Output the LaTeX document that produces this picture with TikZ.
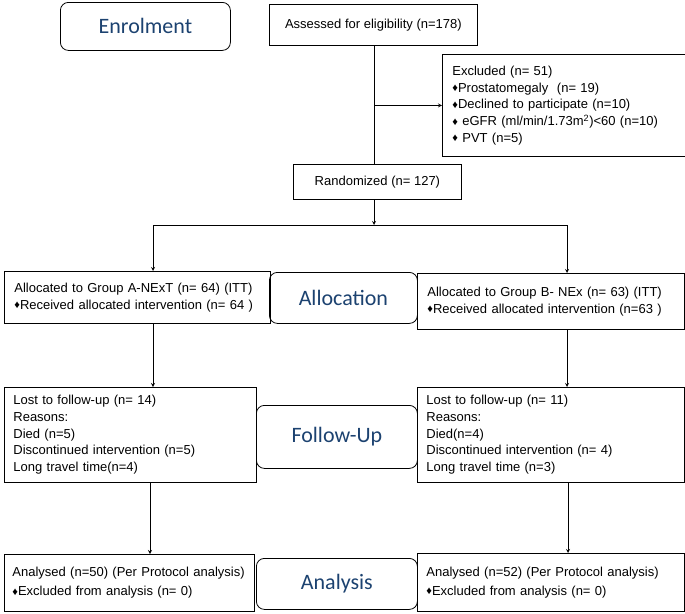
\documentclass[tikz,border=0pt]{standalone}
\usepackage{fontspec}
\setmainfont{Liberation Sans}
\newfontfamily\stagefont{Carlito}
\definecolor{stageblue}{RGB}{28,66,112}
\newcommand{\dia}{\raisebox{0.3pt}{\fontsize{11}{11}\selectfont\symbol{"2666}}}
\tikzset{
  box/.style={draw, rectangle, anchor=north west, align=left, inner xsep=9pt,
    line width=0.8pt, font=\fontsize{13}{16.7}\selectfont},
  stage/.style={draw, rectangle, rounded corners=8pt, anchor=north west,
    line width=0.8pt, text=stageblue, font=\stagefont\fontsize{22}{26}\selectfont}
}
\begin{document}
\begin{tikzpicture}[>=stealth, x=1pt, y=-1pt, line width=0.8pt]
\useasboundingbox (0,0) rectangle (685,613);

% Enrolment
\node[stage, minimum width=170pt, minimum height=48pt] (enrol) at (60,2) {Enrolment};
\node[box, minimum width=208pt, minimum height=41pt, align=center] (assess) at (269,4) {Assessed for eligibility (n=178)};
\node[box, text width=225pt, minimum height=102pt, inner xsep=10pt] (excl) at (442,54)
  {Excluded (n= 51)\\
   \dia Prostatomegaly\ \ (n= 19)\\
   \dia Declined to participate (n=10)\\
   \dia\ eGFR (ml/min/1.73m\textsuperscript{2})<60 (n=10)\\
   \dia\ PVT (n=5)};
\node[box, minimum width=168pt, minimum height=35pt, align=center] (rand) at (293,164) {Randomized (n= 127)};

\coordinate (trunk) at (374,0);
\coordinate (splitA) at (153,225);
\coordinate (splitB) at (567,225);

% Allocation
\node[box, text width=246pt, minimum height=52pt, inner xsep=10pt] (allocA) at (4,271)
  {Allocated to Group A-NExT (n= 64) (ITT)\\
   \dia Received allocated intervention (n= 64 )};
\node[stage, minimum width=148pt, minimum height=51pt] (alloc) at (269,272) {Allocation};
\node[box, text width=247pt, minimum height=56pt, inner xsep=10pt] (allocB) at (417,273)
  {Allocated to Group B- NEx (n= 63) (ITT)\\
   \dia Received allocated intervention (n=63 )};

% Follow-Up
\node[box, text width=234pt, minimum height=95pt] (fuA) at (4,387)
  {Lost to follow-up (n= 14)\\
   Reasons:\\
   Died (n=5)\\
   Discontinued intervention (n=5)\\
   Long travel time(n=4)};
\node[stage, minimum width=161pt, minimum height=63pt] (fu) at (256,405) {Follow-Up};
\node[box, text width=249pt, minimum height=95pt] (fuB) at (417,387)
  {Lost to follow-up (n= 11)\\
   Reasons:\\
   Died(n=4)\\
   Discontinued intervention (n= 4)\\
   Long travel time (n=3)};

% Analysis
\node[box, text width=234pt, minimum height=57pt, font=\fontsize{13}{19}\selectfont, inner xsep=8pt] (anA) at (4,554)
  {Analysed (n=50) (Per Protocol analysis)\\
   \dia Excluded from analysis (n= 0)};
\node[stage, minimum width=161pt, minimum height=51pt] (an) at (256,558) {Analysis};
\node[box, text width=249pt, minimum height=58pt, font=\fontsize{13}{19}\selectfont] (anB) at (417,553)
  {Analysed (n=52) (Per Protocol analysis)\\
   \dia Excluded from analysis (n= 0)};

% connectors
\draw (trunk |- assess.south) -- (trunk |- rand.north);
\draw[->] (trunk |- excl.west) -- (excl.west);
\draw[->] (trunk |- rand.south) -- (trunk |- splitA);
\draw (splitA) -- (splitB);
\draw[->] (splitA) -- (splitA |- allocA.north);
\draw[->] (splitB) -- (splitB |- allocB.north);
\draw[->] (splitA |- allocA.south) -- (splitA |- fuA.north);
\draw[->] (splitB |- allocB.south) -- (splitB |- fuB.north);
\draw[->] (150,0 |- fuA.south) -- (150,0 |- anA.north);
\draw[->] (568,0 |- fuB.south) -- (568,0 |- anB.north);

\end{tikzpicture}
\end{document}
